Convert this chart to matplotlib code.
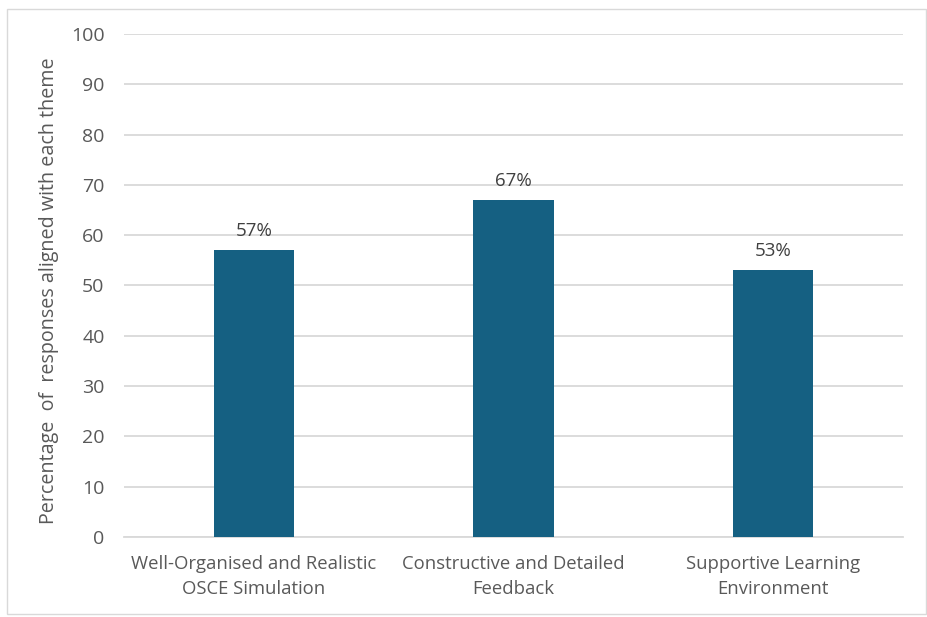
import matplotlib
matplotlib.use("Agg")
import matplotlib.pyplot as plt
from matplotlib.patches import Rectangle

categories = ["Well-Organised and Realistic\nOSCE Simulation",
              "Constructive and Detailed\nFeedback",
              "Supportive Learning\nEnvironment"]
values = [57, 67, 53]
labels = ["57%", "67%", "53%"]
yticks = [0, 10, 20, 30, 40, 50, 60, 70, 80, 90, 100]

plt.rcParams['font.family'] = ['Open Sans', 'DejaVu Sans']
txt = '#595959'

fig = plt.figure(figsize=(9.28, 6.17), dpi=100)
ax = fig.add_axes([0.1336, 0.1297, 0.8394, 0.8152])

x = range(len(categories))
ax.bar(x, values, width=0.31, color='#156082', zorder=3)
for i, (v, l) in enumerate(zip(values, labels)):
    ax.text(i, v + 2.0, l, ha='center', va='bottom', fontsize=13.5, color='#404040')

ax.set_xlim(-0.5, 2.5)
ax.set_ylim(0, 100)
ax.set_yticks(yticks)
ax.set_xticks(list(x))
ax.set_xticklabels(categories, fontsize=13.3, color=txt, linespacing=1.5)
ax.tick_params(axis='y', labelsize=14, labelcolor=txt, length=0, pad=14)
ax.tick_params(axis='x', length=0, pad=13)
ax.grid(axis='y', color='#d9d9d9', linewidth=1.3, zorder=0)
for s in ['top', 'right', 'left']:
    ax.spines[s].set_visible(False)
ax.spines['bottom'].set_color('#d9d9d9')
ax.spines['bottom'].set_linewidth(1.3)
ax.set_ylabel("Percentage  of  responses aligned with each theme", fontsize=14.2, color=txt)
ax.yaxis.set_label_coords(-0.083, 0.49)

fig.patches.append(Rectangle((7/928, 1-614/617), (926-7)/928, (614-9)/617,
                             transform=fig.transFigure, fill=False,
                             edgecolor='#d9d9d9', linewidth=1))

fig.savefig("out.png", dpi=100)
